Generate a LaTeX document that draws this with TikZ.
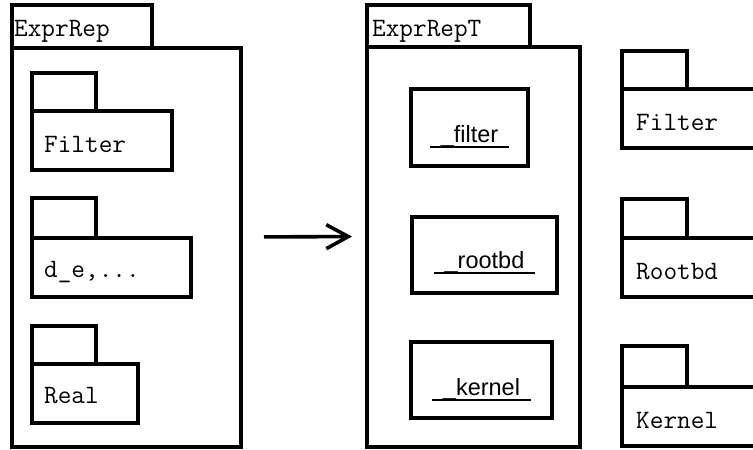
\documentclass[tikz,border=0pt]{standalone}
\usepackage{fontspec}
\setmainfont{Liberation Sans}
\usetikzlibrary{arrows.meta}
\newcommand{\objname}[1]{\setbox0\hbox{\hspace{11pt}#1\hspace{11pt}}\rlap{\rule[-6pt]{\wd0}{2pt}}\box0}

\begin{document}
\begin{tikzpicture}[x=1pt, y=-1pt,
    pkgbox/.style={draw, line width=3.6pt, anchor=north west, inner sep=0pt, outer sep=0pt},
    pkglabel/.style={anchor=base west, inner sep=0pt, font=\fontsize{26.5}{29}\ttfamily},
    objlabel/.style={anchor=base, inner sep=0pt, font=\fontsize{23.5}{26}\selectfont}]
    \useasboundingbox (0,0) rectangle (753,450);
    \clip (0,0) rectangle (753,450);

    % ExprRep package
    \node[pkgbox, minimum width=140, minimum height=43] (exprrep-tab) at (12,5) {};
    \node[pkgbox, minimum width=229, minimum height=399] (exprrep) at (12,48) {};
    \node[pkglabel] (exprrep-name) at (14,36) {ExprRep};

    \node[pkgbox, minimum width=64, minimum height=38] (filter-tab) at (32,73) {};
    \node[pkgbox, minimum width=140, minimum height=59] (filter) at (32,111) {};
    \node[pkglabel] (filter-name) at (44,152) {Filter};

    \node[pkgbox, minimum width=64, minimum height=40] (de-tab) at (32,198) {};
    \node[pkgbox, minimum width=159, minimum height=59] (de) at (32,238) {};
    \node[pkglabel] (de-name) at (44,277) {d\_e,...};

    \node[pkgbox, minimum width=64, minimum height=38] (real-tab) at (32,326) {};
    \node[pkgbox, minimum width=106, minimum height=59] (real) at (32,364) {};
    \node[pkglabel] (real-name) at (44,403) {Real};

    % ExprRepT package
    \node[pkgbox, minimum width=163, minimum height=42] (exprrepT-tab) at (367,5) {};
    \node[pkgbox, minimum width=213, minimum height=400] (exprrepT) at (367,47) {};
    \node[pkglabel] (exprrepT-name) at (372,36) {ExprRepT};

    \node[pkgbox, minimum width=117, minimum height=77] (obj-filter) at (411,89) {};
    \node[objlabel] (obj-filter-name) at (469.5,142) {\objname{\_filter}};

    \node[pkgbox, minimum width=145, minimum height=76] (obj-rootbd) at (412,217) {};
    \node[objlabel] (obj-rootbd-name) at (484.5,268) {\objname{\_rootbd}};

    \node[pkgbox, minimum width=141, minimum height=76] (obj-kernel) at (411,342) {};
    \node[objlabel] (obj-kernel-name) at (481.5,395) {\objname{\_kernel}};

    % library packages
    \foreach \name/\ty/\th/\by/\lbl in {filter/51/38/89/Filter, rootbd/199/39/238/Rootbd, kernel/346/41/387/Kernel} {
        \node[pkgbox, minimum width=65, minimum height=\th] (lib-\name-tab) at (622,\ty) {};
        \node[pkgbox, minimum width=160, minimum height=59] (lib-\name) at (622,\by) {};
        \node[pkglabel] (lib-\name-name) at (636,\by+41) {\lbl};
    }

    \draw[line width=3.6pt, -{Straight Barb[length=22pt, width=24pt]}, shorten <=23pt, shorten >=15pt]
        ([yshift=10.5pt]exprrep.east) -- ([yshift=10.5pt]exprrepT.west);

\end{tikzpicture}
\end{document}
